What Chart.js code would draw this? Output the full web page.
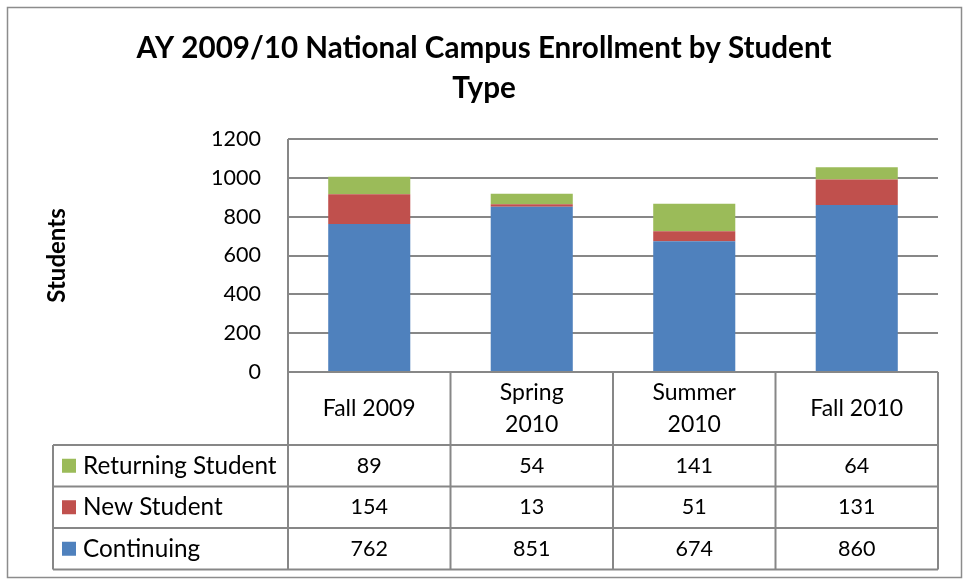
<!DOCTYPE html>
<html>
<head>
<meta charset="utf-8">
<script src="https://cdn.jsdelivr.net/npm/chart.js@4.4.0/dist/chart.umd.min.js"></script>
<style>
html,body{margin:0;padding:0;background:#fff;}
#wrap{width:969px;height:584px;position:relative;}
</style>
</head>
<body>
<div id="wrap"><canvas id="c" width="969" height="584"></canvas></div>
<script>
const categories = ["Fall 2009", "Spring 2010", "Summer 2010", "Fall 2010"];
const headerLines = [["Fall 2009"], ["Spring", "2010"], ["Summer", "2010"], ["Fall 2010"]];
const continuing = [762, 851, 674, 860];
const newStudent = [154, 13, 51, 131];
const returning = [89, 54, 141, 64];
const yTicks = [0, 200, 400, 600, 800, 1000, 1200];
const titleLines = ["AY 2009/10 National Campus Enrollment by Student", "Type"];
const yTitle = "Students";

const FONT = "Lato, 'Open Sans', sans-serif";
const GRID = "#878787";
const tableRows = [
  { label: "Returning Student", values: returning, color: "#9BBB59" },
  { label: "New Student", values: newStudent, color: "#C0504D" },
  { label: "Continuing", values: continuing, color: "#4F81BD" }
];

const tablePlugin = {
  id: "tablePlugin",
  afterDraw(chart) {
    const ctx = chart.ctx;
    const ca = chart.chartArea;
    const xs = chart.scales.x;
    const n = categories.length;
    const cw = (ca.right - ca.left) / n;
    const tableLeft = 53;
    const headerBottom = ca.bottom + 73;
    const rowH = 41.5;
    const tableBottom = headerBottom + rowH * 3;
    ctx.save();
    ctx.strokeStyle = "#8c8c8c";
    ctx.lineWidth = 1.5;
    ctx.strokeRect(7.5, 7.5, 954, 570);
    ctx.fillStyle = "#000";
    ctx.textAlign = "center";
    ctx.textBaseline = "middle";
    ctx.font = "bold 29.6px " + FONT;
    ctx.fillText(titleLines[0], 484, 48);
    ctx.fillText(titleLines[1], 484, 88);
    ctx.save();
    ctx.translate(57, (ca.top + ca.bottom) / 2);
    ctx.rotate(-Math.PI / 2);
    ctx.font = "bold 24px " + FONT;
    ctx.fillText(yTitle, 0, 0);
    ctx.restore();
    ctx.strokeStyle = GRID;
    ctx.lineWidth = 2;
    ctx.beginPath();
    ctx.moveTo(ca.left, ca.top); ctx.lineTo(ca.left, tableBottom);
    for (let i = 1; i <= n; i++) {
      const x = ca.left + cw * i;
      ctx.moveTo(x, ca.bottom); ctx.lineTo(x, tableBottom);
    }
    ctx.moveTo(ca.left, ca.bottom); ctx.lineTo(ca.right, ca.bottom);
    for (let r = 0; r <= 3; r++) {
      const y = headerBottom + rowH * r;
      ctx.moveTo(tableLeft, y); ctx.lineTo(ca.right, y);
    }
    ctx.moveTo(tableLeft, headerBottom); ctx.lineTo(tableLeft, tableBottom);
    ctx.stroke();
    ctx.fillStyle = "#000";
    ctx.font = "23px " + FONT;
    ctx.textAlign = "center";
    for (let i = 0; i < n; i++) {
      const cx = xs.getPixelForValue(i);
      const lines = headerLines[i];
      const mid = (ca.bottom + headerBottom) / 2;
      const lh = 32;
      lines.forEach((t, k) => {
        ctx.fillText(t, cx, mid + (k - (lines.length - 1) / 2) * lh);
      });
    }
    tableRows.forEach((row, r) => {
      const cy = headerBottom + rowH * r + rowH / 2;
      ctx.fillStyle = row.color;
      ctx.fillRect(62, cy - 7, 14, 14);
      ctx.fillStyle = "#000";
      ctx.textAlign = "left";
      ctx.font = "24.3px " + FONT;
      ctx.fillText(row.label, 83, cy);
      ctx.textAlign = "center";
      ctx.font = "21.5px " + FONT;
      row.values.forEach((v, i) => {
        ctx.fillText(String(v), xs.getPixelForValue(i), cy);
      });
    });
    ctx.restore();
  }
};

new Chart(document.getElementById("c"), {
  type: "bar",
  data: {
    labels: categories,
    datasets: [
      { label: "Continuing", data: continuing, backgroundColor: "#4F81BD", borderWidth: 0 },
      { label: "New Student", data: newStudent, backgroundColor: "#C0504D", borderWidth: 0 },
      { label: "Returning Student", data: returning, backgroundColor: "#9BBB59", borderWidth: 0 }
    ]
  },
  options: {
    responsive: false,
    animation: false,
    events: [],
    layout: { padding: { top: 139, bottom: 212, right: 31, left: 0 } },
    plugins: { legend: { display: false }, title: { display: false }, tooltip: { enabled: false } },
    datasets: { bar: { categoryPercentage: 0.505, barPercentage: 1 } },
    scales: {
      x: { stacked: true, display: false },
      y: {
        stacked: true,
        min: yTicks[0],
        max: yTicks[yTicks.length - 1],
        afterBuildTicks(scale) { scale.ticks = yTicks.map(v => ({ value: v })); },
        afterFit(scale) { scale.width = 288; },
        border: { display: false },
        grid: { color: GRID, lineWidth: 2, tickLength: 0, drawTicks: false },
        ticks: { color: "#000", padding: 27, font: { family: FONT, size: 21.5 }, callback: v => String(v) }
      }
    }
  },
  plugins: [tablePlugin]
});
</script>
</body>
</html>
